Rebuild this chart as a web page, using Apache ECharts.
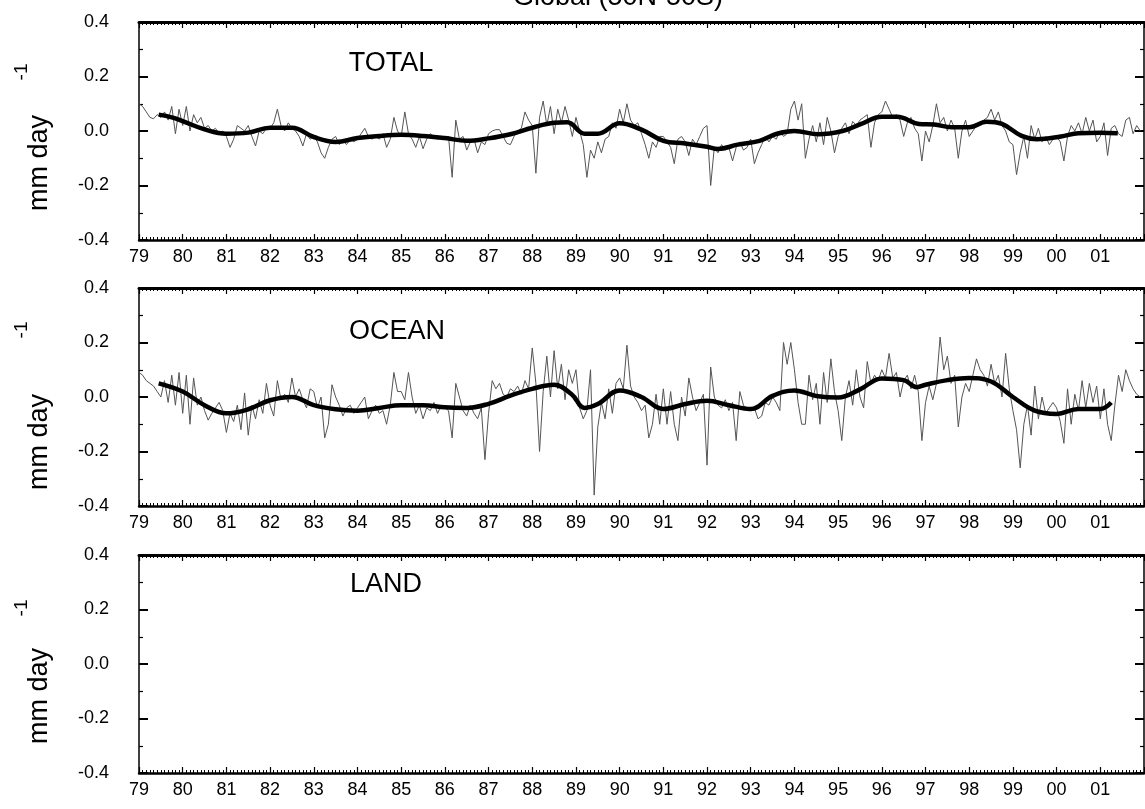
<!DOCTYPE html>
<html><head><meta charset="utf-8">
<script src="https://cdn.jsdelivr.net/npm/echarts@6/dist/echarts.min.js"></script>
<style>html,body{margin:0;padding:0;background:#fff;overflow:hidden}#chart{width:1145px;height:809px}</style>
</head><body><div id="chart"></div>
<script>
const startYear = 1979;
const endYear = 2002;
const yearLabels = ['79','80','81','82','83','84','85','86','87','88','89','90','91','92','93','94','95','96','97','98','99','00','01'];
const yTickLabels = {'-0.4':'-0.4','-0.2':'-0.2','0':'0.0','0.2':'0.2','0.4':'0.4'};
const panelNames = ['TOTAL', 'OCEAN', 'LAND'];

// monthly anomalies (thin line), Jan 1979 - Dec 2001
const totalMonthly = [
  0.10, 0.09, 0.07, 0.05, 0.045, 0.06, 0.05, 0.07, 0.04, 0.09, -0.01, 0.08,
  0.02, 0.09, 0.0, 0.06, 0.03, 0.05, 0.01, 0.02, 0.0, 0.01, -0.01, 0.0,
  -0.02, -0.06, -0.03, 0.02, 0.01, 0.0, 0.02, -0.02, -0.055, 0.0, -0.01, 0.01,
  0.01, 0.03, 0.08, 0.02, 0.0, 0.03, 0.01, 0.0, -0.02, -0.055, -0.01, -0.03,
  -0.02, -0.04, -0.08, -0.1, -0.06, -0.03, -0.02, -0.05, -0.035, -0.05, -0.03, -0.04,
  -0.03, -0.01, 0.01, -0.02, -0.03, -0.02, -0.03, -0.01, -0.06, -0.03, 0.05, 0.0,
  -0.02, 0.07, -0.01, -0.03, -0.06, -0.02, -0.065, -0.03, -0.01, -0.02, -0.03, -0.02,
  -0.03, -0.02, -0.17, 0.04, -0.03, -0.02, -0.07, -0.04, -0.03, -0.08, -0.04, -0.05,
  -0.01, 0.0, 0.005, 0.005, -0.02, -0.045, -0.05, -0.02, 0.0, 0.01, 0.07, 0.04,
  0.02, -0.155, 0.05, 0.11, 0.02, 0.09, -0.01, 0.08, 0.03, 0.09, 0.04, -0.02,
  0.05, 0.0, -0.05, -0.17, -0.07, -0.1, -0.04, -0.08, -0.03, -0.02, 0.03, 0.01,
  0.08, 0.03, 0.1, 0.04, 0.02, 0.03, -0.01, -0.05, -0.1, -0.04, -0.06, -0.02,
  -0.02, -0.04, -0.06, -0.12, -0.03, -0.02, -0.04, -0.09, -0.03, -0.05, -0.02, 0.01,
  0.02, -0.2, -0.06, -0.08, -0.05, -0.07, -0.06, -0.11, -0.06, -0.04, -0.07, -0.06,
  -0.03, -0.12, -0.08, -0.05, -0.02, -0.04, -0.02, -0.03, 0.0, -0.02, -0.01, 0.08,
  0.11, 0.04, 0.1, -0.1, -0.03, 0.02, -0.04, 0.03, -0.05, 0.05, 0.0, -0.08,
  -0.02, 0.01, 0.03, -0.01, 0.035, 0.02, 0.04, 0.05, 0.06, -0.06, 0.03, 0.06,
  0.07, 0.11, 0.08, 0.05, 0.06, 0.04, -0.02, 0.03, 0.05, 0.01, -0.01, -0.11,
  0.0, -0.04, 0.02, 0.1, 0.03, 0.05, 0.0, 0.04, 0.01, -0.1, 0.0, 0.04,
  -0.02, 0.0, 0.02, 0.03, 0.04, 0.05, 0.08, 0.04, 0.07, 0.02, 0.0, -0.04,
  -0.05, -0.16, -0.08, -0.02, -0.1, 0.02, -0.03, 0.01, -0.04, -0.02, -0.05, -0.03,
  -0.02, -0.04, -0.11, -0.02, 0.02, 0.0, 0.03, -0.01, 0.05, 0.0, 0.04, -0.04,
  -0.02, 0.03, -0.09, 0.01, 0.02, -0.01, -0.02, 0.04, 0.05, -0.01, 0.02, 0.0
];
const oceanMonthly = [
  0.09, 0.08, 0.06, 0.05, 0.04, 0.02, 0.0, 0.06, -0.02, 0.08, -0.03, 0.09,
  -0.06, 0.08, -0.1, 0.07, -0.03, 0.0, -0.05, -0.085, -0.06, -0.04, -0.02, -0.05,
  -0.13, -0.06, -0.09, -0.03, -0.12, 0.015, -0.14, -0.03, -0.08, -0.01, -0.06, 0.05,
  -0.03, -0.07, 0.06, -0.01, 0.01, -0.02, 0.07, 0.0, 0.03, -0.01, -0.04, 0.03,
  0.02, -0.04, 0.0, -0.15, -0.1, 0.045, 0.0, -0.03, -0.07, -0.04, -0.03, -0.06,
  -0.04, -0.02, 0.0, -0.08, -0.05, -0.03, -0.06, -0.05, -0.1, -0.03, 0.09, 0.02,
  0.02, -0.01, 0.09, 0.0, -0.06, -0.03, -0.08, -0.04, -0.05, -0.02, -0.06, -0.03,
  -0.04, -0.05, -0.15, 0.05, 0.0, -0.05, -0.07, -0.03, -0.06, -0.08, -0.04, -0.23,
  -0.06, 0.06, 0.03, 0.05, 0.01, 0.0, 0.03, 0.02, 0.04, 0.01, 0.06, 0.03,
  0.18, 0.05, -0.2, 0.02, 0.15, 0.0, 0.17, 0.03, 0.12, -0.01, 0.1, 0.05,
  0.1, -0.04, -0.08, -0.05, 0.1, -0.36, -0.11, -0.02, -0.08, 0.03, -0.06, 0.05,
  0.07, 0.03, 0.19, 0.04, 0.0, -0.02, -0.05, -0.03, -0.15, -0.1, 0.01, -0.1,
  0.03, -0.1, 0.02, -0.1, -0.16, 0.0, -0.07, 0.07, 0.0, -0.05, -0.02, 0.01,
  -0.25, 0.11, 0.0, -0.03, -0.04, -0.01, -0.05, -0.02, -0.16, 0.02, -0.03, -0.05,
  -0.05, -0.04, -0.08, -0.07, -0.02, -0.03, 0.0, -0.02, -0.05, 0.2, 0.12, 0.2,
  0.1, -0.02, -0.1, -0.1, 0.08, -0.01, 0.05, -0.1, 0.09, -0.02, 0.14, 0.02,
  -0.05, -0.16, 0.0, 0.06, -0.03, 0.1, 0.0, -0.04, 0.13, 0.05, 0.08, 0.06,
  0.1, 0.07, 0.16, 0.07, 0.09, 0.0, 0.06, 0.08, 0.03, 0.08, 0.02, -0.16,
  -0.02, 0.04, -0.01, 0.05, 0.22, 0.1, 0.15, 0.05, 0.08, -0.11, 0.0, 0.05,
  0.02, 0.08, 0.14, 0.1, 0.08, 0.04, 0.12, 0.05, 0.08, 0.0, 0.16, 0.03,
  -0.05, -0.12, -0.26, -0.1, -0.03, -0.14, 0.04, -0.08, 0.0, -0.06, -0.04, -0.02,
  -0.04, -0.09, -0.17, 0.03, -0.1, 0.01, -0.05, 0.06, -0.04, 0.05, -0.02, 0.04,
  -0.08, 0.03, -0.1, -0.16, -0.03, 0.08, 0.02, 0.1, 0.06, 0.03, 0.01, 0.0
];

// smoothed curves (thick line)
const totalSmoothYears = [1979.45,1979.75,1980.0,1980.5,1981.0,1981.5,1982.0,1982.5,1983.0,1983.5,1984.0,1984.5,1985.0,1985.5,1986.0,1986.5,1987.0,1987.5,1988.0,1988.5,1988.8,1989.2,1989.5,1990.0,1990.5,1991.0,1991.5,1992.0,1992.25,1992.7,1993.2,1993.6,1994.0,1994.55,1995.1,1995.5,1996.0,1996.35,1996.85,1997.2,1997.6,1998.0,1998.4,1998.75,1999.2,1999.55,2000.1,2000.5,2001.0,2001.4];
const totalSmoothValues = [0.06,0.05,0.036,0.006,-0.01,-0.006,0.012,0.012,-0.022,-0.04,-0.026,-0.018,-0.014,-0.018,-0.026,-0.036,-0.027,-0.012,0.012,0.03,0.032,-0.01,-0.01,0.028,0.005,-0.036,-0.046,-0.058,-0.066,-0.05,-0.036,-0.01,0.0,-0.012,0.0,0.024,0.052,0.052,0.026,0.024,0.014,0.014,0.034,0.026,-0.018,-0.03,-0.02,-0.008,-0.006,-0.008];
const oceanSmoothYears = [1979.45,1980.0,1980.5,1981.0,1981.5,1982.0,1982.5,1983.0,1983.5,1984.0,1984.5,1985.0,1985.5,1986.0,1986.5,1987.0,1987.5,1988.0,1988.5,1988.9,1989.2,1989.5,1990.0,1990.5,1991.0,1991.5,1992.0,1992.5,1993.0,1993.5,1994.0,1994.5,1995.0,1995.5,1996.0,1996.5,1996.8,1997.0,1997.5,1998.0,1998.5,1999.0,1999.5,2000.0,2000.5,2001.0,2001.25];
const oceanSmoothValues = [0.05,0.02,-0.03,-0.06,-0.045,-0.012,0.0,-0.03,-0.045,-0.05,-0.04,-0.03,-0.03,-0.038,-0.04,-0.025,0.005,0.03,0.045,0.01,-0.04,-0.026,0.024,0.0,-0.044,-0.026,-0.014,-0.03,-0.044,0.004,0.024,0.004,-0.002,0.028,0.068,0.062,0.036,0.045,0.062,0.07,0.057,0.0,-0.05,-0.062,-0.044,-0.044,-0.02];

const FONT = '"Liberation Sans", Arial, Helvetica, sans-serif';
const chart = echarts.init(document.getElementById('chart'), null, {renderer: 'canvas'});

const monthly = arr => arr.map((v, i) => [startYear + i / 12, v]);
const pairs = (xs, ys) => xs.map((x, i) => [x, ys[i]]);

const gridTops = [22, 288, 555];
const gridH = 218;
const grids = gridTops.map(t => ({left: 139, right: 1, top: t, height: gridH, show: false}));

const xAxes = [], yAxes = [];
gridTops.forEach((t, g) => {
  const base = {
    type: 'value', gridIndex: g, min: startYear, max: endYear, interval: 1,
    splitLine: {show: false},
    axisTick: {show: true, inside: true, length: 6, lineStyle: {color: '#000', width: 1.2}},
    minorTick: {show: true, splitNumber: 12, length: 3, lineStyle: {color: '#000', width: 1}},
  };
  xAxes.push(Object.assign({}, base, {
    position: 'bottom',
    axisLine: {show: true, onZero: false, lineStyle: {color: '#000', width: 2.5}},
    axisLabel: {show: true, margin: 8, color: '#000', fontSize: 18, fontFamily: FONT,
      showMaxLabel: false,
      formatter: v => yearLabels[Math.round(v) - startYear] || ''}
  }));
  xAxes.push(Object.assign({}, base, {
    position: 'top',
    axisLine: {show: true, onZero: false, lineStyle: {color: '#000', width: 3}},
    axisLabel: {show: false}
  }));
  const ybase = {
    type: 'value', gridIndex: g, min: -0.4, max: 0.4, interval: 0.2,
    splitLine: {show: false},
    axisLine: {show: true, onZero: false, lineStyle: {color: '#000', width: 1.5}},
    axisTick: {show: true, inside: true, length: 9, lineStyle: {color: '#000', width: 2}},
    minorTick: {show: true, splitNumber: 2, length: 4, lineStyle: {color: '#000', width: 1.2}},
  };
  yAxes.push(Object.assign({}, ybase, {
    position: 'left',
    axisLabel: {show: true, margin: 30, color: '#000', fontSize: 18, fontFamily: FONT,
      formatter: v => yTickLabels[String(Math.round(v * 10) / 10)] || ''}
  }));
  yAxes.push(Object.assign({}, ybase, {position: 'right', axisLabel: {show: false}}));
});

const thinStyle = {color: '#555', width: 1};
const thickStyle = {color: '#000', width: 4.5};
const series = [
  {type: 'line', xAxisIndex: 0, yAxisIndex: 0, data: monthly(totalMonthly), showSymbol: false, lineStyle: thinStyle, z: 2, silent: true},
  {type: 'line', xAxisIndex: 0, yAxisIndex: 0, data: pairs(totalSmoothYears, totalSmoothValues), smooth: 0.4, showSymbol: false, lineStyle: thickStyle, z: 3, silent: true},
  {type: 'line', xAxisIndex: 2, yAxisIndex: 2, data: monthly(oceanMonthly), showSymbol: false, lineStyle: thinStyle, z: 2, silent: true},
  {type: 'line', xAxisIndex: 2, yAxisIndex: 2, data: pairs(oceanSmoothYears, oceanSmoothValues), smooth: 0.4, showSymbol: false, lineStyle: thickStyle, z: 3, silent: true}
];

const panelLabelPos = [[391, 64], [397, 332], [386, 585]];
const yNamePos = [[40, 163, 22, 72], [40, 442, 22, 330], [40, 696, 22, 608]];
const graphic = [
  {type: 'text', x: 618, y: -2, style: {text: 'Global (50N-50S)', fill: '#000', font: '27px ' + FONT, textAlign: 'center', textVerticalAlign: 'middle'}}
];
panelNames.forEach((n, i) => {
  graphic.push({type: 'text', x: panelLabelPos[i][0], y: panelLabelPos[i][1],
    style: {text: n, fill: '#000', font: '27px ' + FONT, textAlign: 'center', textVerticalAlign: 'middle'}});
  graphic.push({type: 'text', x: yNamePos[i][0], y: yNamePos[i][1], rotation: Math.PI / 2,
    style: {text: 'mm day', fill: '#000', font: '27px ' + FONT, textAlign: 'center', textVerticalAlign: 'middle'}});
  graphic.push({type: 'text', x: yNamePos[i][2], y: yNamePos[i][3], rotation: Math.PI / 2,
    style: {text: '-1', fill: '#000', font: '19px ' + FONT, textAlign: 'center', textVerticalAlign: 'middle'}});
});

chart.setOption({
  animation: false,
  backgroundColor: '#fff',
  grid: grids,
  xAxis: xAxes,
  yAxis: yAxes,
  series: series,
  graphic: graphic
});
</script>
</body></html>
